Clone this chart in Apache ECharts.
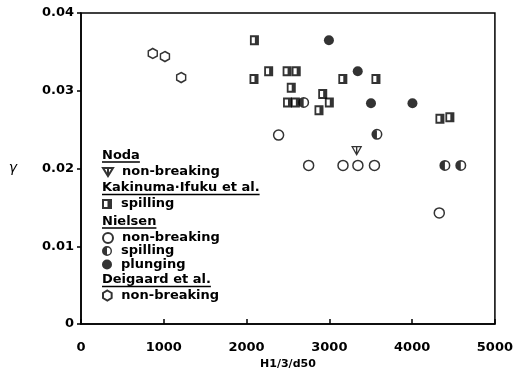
<!DOCTYPE html>
<html><head><meta charset="utf-8">
<script src="https://cdn.jsdelivr.net/npm/echarts@6/dist/echarts.min.js"></script>
<style>html,body{margin:0;padding:0;background:#fff}#c{width:516px;height:375px}</style>
</head><body><div id="c"></div>
<script>
// ---- data ----
const xTickLabels = ['0', '1000', '2000', '3000', '4000', '5000'];
const yTickLabels = ['0', '0.01', '0.02', '0.03', '0.04'];
const nodaNonBreaking = [[3330, 0.0223]];
const kakinumaSpilling = [
  [2095, 0.0365], [2090, 0.0315], [2267, 0.0325], [2490, 0.0325], [2600, 0.0325],
  [2540, 0.0304], [2495, 0.0285], [2590, 0.0285], [3163, 0.0315], [3563, 0.0315],
  [2920, 0.0296], [3000, 0.0285], [2875, 0.0275], [4336, 0.0264], [4456, 0.0266]
];
const nielsenNonBreaking = [[2387, 0.0243], [2750, 0.0204], [3165, 0.0204], [3345, 0.0204], [3545, 0.0204], [4328, 0.0143]];
const nielsenSpilling = [[2690, 0.0285], [3575, 0.0244], [4396, 0.0204], [4588, 0.0204]];
const nielsenPlunging = [[2995, 0.0365], [3343, 0.0325], [3503, 0.0284], [4004, 0.0284]];
const deigaardNonBreaking = [[867, 0.0348], [1014, 0.0344], [1210, 0.0317]];

// ---- symbols ----
const FONT = 'DejaVu Sans';
const triPath = 'path://M0 0 L10 0 L5 8 Z M5 0 L5 8';
const sqPath = 'path://M0 0 H10 V10 H0 Z M2 2 V8 H5.5 V2 Z';
const halfPath = 'path://M5 0 A5 5 0 1 1 5 10 A5 5 0 1 1 5 0 Z M5 1.4 A3.6 3.6 0 1 0 5 8.6 A3.6 3.6 0 1 0 5 1.4 Z M5 0 L5 10 A5 5 0 0 1 5 0 Z';
const hexPath = 'path://M5 0 L9.33 2.5 L9.33 7.5 L5 10 L0.67 7.5 L0.67 2.5 Z';

const hollow = {color: '#fff', borderColor: '#000', borderWidth: 1.5};
const solid = {color: '#000', borderWidth: 0};

const series = [
  {name: 'Noda non-breaking', data: nodaNonBreaking, symbol: triPath, symbolSize: [9, 8], itemStyle: {color: '#fff', borderColor: '#000', borderWidth: 1.3}, label: 'non-breaking'},
  {name: 'Kakinuma spilling', data: kakinumaSpilling, symbol: sqPath, symbolSize: [9, 10], itemStyle: solid, label: 'spilling'},
  {name: 'Nielsen non-breaking', data: nielsenNonBreaking, symbol: 'circle', symbolSize: 10, itemStyle: hollow, label: 'non-breaking'},
  {name: 'Nielsen spilling', data: nielsenSpilling, symbol: halfPath, symbolSize: 11, itemStyle: solid, label: 'spilling'},
  {name: 'Nielsen plunging', data: nielsenPlunging, symbol: 'circle', symbolSize: 10, itemStyle: solid, label: 'plunging'},
  {name: 'Deigaard non-breaking', data: deigaardNonBreaking, symbol: hexPath, symbolSize: [9, 10], itemStyle: hollow, label: 'non-breaking'}
];
const legendRowsY = [172.5, 204.5, 238.5, 251.5, 265, 296];
const headings = [['Noda', 155.5], ['Kakinuma·Ifuku et al.', 188], ['Nielsen', 221.5], ['Deigaard et al.', 280]];

const LEG_X = 102;
const mctx = document.createElement('canvas').getContext('2d');
mctx.font = 'bold 13px ' + FONT;
const graphics = [];
headings.forEach(([t, y]) => {
  const w = mctx.measureText(t).width;
  graphics.push({type: 'text', x: LEG_X, y: y, style: {text: t, fill: '#000', font: 'bold 13px ' + FONT, verticalAlign: 'middle', align: 'left'}});
  graphics.push({type: 'line', shape: {x1: LEG_X, y1: y + 6.5, x2: LEG_X + w, y2: y + 6.5}, style: {stroke: '#000', lineWidth: 1.5}});
});

const legends = series.map((s, i) => ({
  data: [s.name], left: LEG_X, top: legendRowsY[i] - 7, itemWidth: 10, itemHeight: 10,
  padding: 0, selectedMode: false, formatter: () => s.label, itemGap: 0,
  textStyle: {fontFamily: FONT, fontWeight: 'bold', fontSize: 13, color: '#000', padding: [0, 0, 0, 4]}
}));

const chart = echarts.init(document.getElementById('c'), null, {renderer: 'canvas'});
chart.setOption({
  animation: false,
  backgroundColor: '#fff',
  grid: {left: 81, right: 18, top: 13, bottom: 50, show: true, borderColor: '#000', borderWidth: 1.5, backgroundColor: 'transparent'},
  xAxis: {
    type: 'value', min: 0, max: 5000, interval: 1000,
    name: 'H1/3/d50', nameLocation: 'middle', nameGap: 33,
    nameTextStyle: {fontFamily: FONT, fontWeight: 'bold', fontSize: 11, color: '#000'},
    axisLine: {lineStyle: {color: '#000', width: 1.5}},
    axisTick: {inside: true, length: 5, lineStyle: {color: '#000', width: 1.5}},
    axisLabel: {margin: 17, fontFamily: FONT, fontWeight: 'bold', fontSize: 13, color: '#000',
      formatter: v => xTickLabels[Math.round(v / 1000)]},
    splitLine: {show: false}
  },
  yAxis: {
    type: 'value', min: 0, max: 0.04, interval: 0.01,
    name: 'γ', nameLocation: 'middle', nameGap: 64, nameRotate: 0,
    nameTextStyle: {fontFamily: FONT, fontStyle: 'italic', fontSize: 14, color: '#000'},
    axisLine: {lineStyle: {color: '#000', width: 1.5}},
    axisTick: {inside: false, length: 4, lineStyle: {color: '#000', width: 1.5}},
    axisLabel: {margin: 7, fontFamily: FONT, fontWeight: 'bold', fontSize: 13, color: '#000',
      formatter: v => yTickLabels[Math.round(v / 0.01)]},
    splitLine: {show: false}
  },
  legend: legends,
  graphic: graphics,
  series: series.map(s => ({
    type: 'scatter', name: s.name, data: s.data, symbol: s.symbol, symbolSize: s.symbolSize,
    itemStyle: s.itemStyle, emphasis: {disabled: true}
  }))
});
</script>
</body></html>
